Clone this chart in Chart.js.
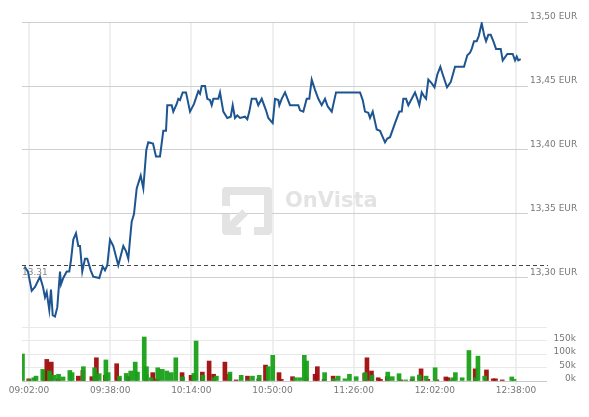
<!DOCTYPE html>
<html>
<head>
<meta charset="utf-8">
<script src="https://cdn.jsdelivr.net/npm/chart.js@4.4.1/dist/chart.umd.min.js"></script>
<style>
  html, body { margin: 0; padding: 0; background: #fff; }
  #wrap { width: 589px; height: 417px; }
</style>
</head>
<body>
<div id="wrap"><canvas id="chart" width="589" height="417"></canvas></div>
<script>
// ==================== DATA ====================

// Kurs (EUR) – Zeitpunkte und Werte
const priceTimes = [
    '09:00:00','09:01:33','09:03:12','09:04:40','09:06:53','09:08:13','09:09:06','09:09:51','09:11:00','09:11:45',
    '09:12:31','09:13:32','09:14:33','09:15:45','09:16:12','09:17:13','09:18:43','09:19:52','09:20:38','09:21:39',
    '09:22:51','09:23:52','09:24:37','09:25:38','09:26:50','09:27:51','09:29:22','09:30:31','09:33:11','09:34:41',
    '09:35:43','09:36:44','09:37:56','09:39:23','09:41:36','09:43:50','09:45:01','09:46:03','09:46:48','09:47:33',
    '09:48:34','09:49:46','09:51:33','09:52:42','09:54:02','09:54:55','09:57:00','09:58:20','10:00:06','10:01:34',
    '10:02:46','10:03:21','10:05:18','10:06:00','10:07:31','10:08:13','10:08:58','10:10:10','10:11:38','10:13:25',
    '10:15:11','10:17:05','10:17:51','10:18:36','10:20:04','10:21:05','10:22:17','10:23:02','10:23:45','10:25:58',
    '10:26:43','10:28:11','10:29:57','10:31:28','10:32:21','10:33:22','10:34:23','10:35:35','10:37:48','10:38:50',
    '10:39:43','10:40:47','10:42:41','10:43:42','10:45:13','10:47:07','10:48:08','10:50:05','10:51:07','10:52:35',
    '10:53:01','10:54:05','10:55:33','10:57:46','11:01:27','11:02:12','11:03:40','11:05:10','11:06:19','11:07:23',
    '11:08:51','11:10:19','11:11:49','11:13:17','11:14:29','11:16:16','11:18:10','11:28:49','11:30:01','11:31:02',
    '11:32:30','11:33:15','11:34:27','11:36:13','11:37:41','11:39:54','11:40:55','11:42:07','11:44:20','11:46:15',
    '11:47:18','11:48:01','11:49:13','11:50:14','11:51:45','11:53:12','11:54:14','11:55:07','11:56:11','11:57:12',
    '11:58:05','11:59:06','12:00:37','12:01:51','12:03:06','12:04:26','12:05:30','12:07:24','12:09:02','12:10:57',
    '12:14:56','12:16:24','12:17:36','12:18:21','12:19:23','12:20:34','12:21:28','12:22:47','12:23:57','12:24:42',
    '12:25:43','12:26:47','12:27:56','12:29:08','12:31:13','12:32:06','12:34:09','12:36:32','12:37:34','12:38:19',
    '12:39:01','12:40:05'
];
const prices = [
    13.309,13.305,13.290,13.293,13.301,13.293,13.285,13.289,13.275,13.291,
    13.271,13.270,13.277,13.305,13.295,13.300,13.305,13.305,13.314,13.330,
    13.335,13.325,13.325,13.305,13.315,13.315,13.306,13.301,13.300,13.309,
    13.306,13.310,13.330,13.325,13.310,13.325,13.321,13.315,13.330,13.344,
    13.350,13.370,13.380,13.370,13.400,13.406,13.405,13.395,13.395,13.415,
    13.415,13.435,13.435,13.430,13.436,13.440,13.439,13.445,13.445,13.430,
    13.436,13.446,13.444,13.450,13.450,13.440,13.439,13.435,13.440,13.440,
    13.445,13.430,13.425,13.426,13.435,13.425,13.427,13.425,13.426,13.424,
    13.430,13.440,13.440,13.435,13.440,13.431,13.425,13.421,13.440,13.439,
    13.435,13.440,13.445,13.435,13.435,13.431,13.430,13.440,13.440,13.455,
    13.447,13.440,13.435,13.440,13.434,13.430,13.445,13.445,13.439,13.430,
    13.429,13.425,13.430,13.416,13.415,13.406,13.409,13.410,13.421,13.430,
    13.430,13.440,13.440,13.435,13.440,13.445,13.440,13.435,13.445,13.442,
    13.440,13.455,13.452,13.449,13.459,13.465,13.459,13.449,13.453,13.465,
    13.465,13.474,13.476,13.479,13.485,13.485,13.489,13.499,13.489,13.485,
    13.490,13.490,13.485,13.479,13.479,13.470,13.475,13.475,13.470,13.473,
    13.470,13.471
];

// Vortag-Schlusskurs
const prevClose = 13.31;

// Umsatz (Stück) – steigende Minuten (grün)
const volUpTimes = [
    '09:00','09:03','09:05','09:06','09:09','09:12','09:14','09:16','09:18','09:21',
    '09:22','09:27','09:32','09:34','09:37','09:38','09:43','09:46','09:48','09:50',
    '09:51','09:54','09:55','09:57','10:00','10:02','10:04','10:06','10:08','10:11',
    '10:16','10:17','10:20','10:25','10:26','10:32','10:37','10:40','10:42','10:45',
    '10:49','10:51','11:01','11:03','11:05','11:06','11:14','11:18','11:20','11:23',
    '11:25','11:28','11:32','11:35','11:42','11:44','11:47','11:50','11:53','11:56',
    '11:59','12:03','12:10','12:11','12:12','12:15','12:18','12:21','12:22','12:25',
    '12:37','12:38'
];
const volUp = [
    100000,5000,12000,18000,43000,37000,21000,25000,15000,39000,
    31000,53000,49000,27000,78000,31000,18000,28000,37000,70000,
    33000,163000,53000,12000,49000,43000,37000,31000,86000,15000,
    28000,148000,21000,12000,18000,33000,21000,4000,18000,21000,
    53000,95000,12000,12000,95000,74000,31000,8000,18000,8000,
    25000,16000,31000,21000,33000,16000,27000,4000,16000,22000,
    18000,49000,4000,12000,31000,12000,113000,12000,92000,18000,
    15000,6000
];

// Umsatz (Stück) – fallende Minuten (rot)
const volDownTimes = [
    '09:01','09:08','09:09','09:11','09:14','09:23','09:25','09:29','09:31','09:35',
    '09:40','09:41','09:45','09:53','09:56','09:58','10:09','10:13','10:18','10:21',
    '10:23','10:28','10:30','10:33','10:38','10:43','10:46','10:52','10:53','10:58',
    '11:04','11:08','11:09','11:12','11:16','11:30','11:31','11:33','11:36','11:37',
    '11:40','11:46','11:51','11:55','11:58','12:02','12:06','12:07','12:19','12:24',
    '12:27','12:28','12:31'
];
const volDown = [
    8000,37000,80000,70000,8000,18000,39000,16000,86000,21000,
    64000,12000,16000,25000,31000,8000,31000,21000,33000,74000,
    25000,70000,25000,4000,18000,8000,59000,31000,6000,16000,
    12000,25000,53000,6000,18000,28000,86000,37000,12000,6000,
    16000,4000,6000,45000,6000,4000,15000,12000,45000,41000,
    8000,8000,4000
];

// Achsenbeschriftungen
const xTickLabels = ['09:02:00', '09:38:00', '10:14:00', '10:50:00', '11:26:00', '12:02:00', '12:38:00'];
const priceTicks = [13.30, 13.35, 13.40, 13.45, 13.50];
const volumeTicks = [0, 50000, 100000, 150000, 200000];
const volumeTickLabels = ['0k', '50k', '100k', '150k', ''];

// ==================== HILFSFUNKTIONEN ====================

function toSec(t) {
    const p = t.split(':').map(Number);
    return p[0] * 3600 + p[1] * 60 + (p[2] || 0);
}

const FONT = { family: '"DejaVu Sans", sans-serif', size: 9 };
const TEXT_COLOR = '#777';

// Wasserzeichen, Vortageslinie und Beschriftungen
const decorPlugin = {
    id: 'decor',
    beforeDraw(chart) {
        const c = chart.ctx;
        c.save();
        c.fillStyle = '#fff';
        c.fillRect(0, 0, chart.width, chart.height);
        c.restore();
    },
    beforeDatasetsDraw(chart) {
        const c = chart.ctx;
        const area = chart.chartArea;
        const yScale = chart.scales.y;

        // OnVista Logo
        c.save();
        c.strokeStyle = '#e3e3e3';
        c.lineWidth = 8;
        c.lineJoin = 'round';
        c.beginPath();
        c.moveTo(226, 206);
        c.lineTo(226, 191);
        c.lineTo(268, 191);
        c.lineTo(268, 231);
        c.lineTo(254, 231);
        c.stroke();
        c.beginPath();
        c.moveTo(241, 231);
        c.lineTo(226, 231);
        c.lineTo(226, 214);
        c.stroke();
        c.beginPath();
        c.moveTo(228, 229);
        c.lineTo(245, 212);
        c.stroke();
        c.fillStyle = '#e3e3e3';
        c.font = 'bold 21px "DejaVu Sans"';
        c.textBaseline = 'alphabetic';
        c.fillText('OnVista', 285, 207);
        c.restore();

        // Vortageslinie
        const y = Math.round(yScale.getPixelForValue(prevClose)) + 0.5;
        c.save();
        c.strokeStyle = '#444';
        c.lineWidth = 1;
        c.setLineDash([4, 3]);
        c.beginPath();
        c.moveTo(area.left, y);
        c.lineTo(548, y);
        c.stroke();
        c.setLineDash([]);
        c.fillStyle = '#888';
        c.font = '9px "DejaVu Sans"';
        c.textBaseline = 'middle';
        c.fillText(prevClose.toFixed(2), area.left, y + 7);
        c.restore();
    },
    afterDraw(chart) {
        // Umsatz-Beschriftung rechtsbündig
        const c = chart.ctx;
        const vScale = chart.scales.v;
        c.save();
        c.fillStyle = TEXT_COLOR;
        c.font = '9px "DejaVu Sans"';
        c.textAlign = 'right';
        c.textBaseline = 'middle';
        volumeTicks.forEach((v, i) => {
            if (volumeTickLabels[i]) {
                c.fillText(volumeTickLabels[i], 576, vScale.getPixelForValue(v) - 2);
            }
        });
        c.restore();
    }
};

// ==================== CHART ====================

const ctx = document.getElementById('chart').getContext('2d');

new Chart(ctx, {
    type: 'line',
    data: {
        datasets: [
            {
                type: 'line',
                data: priceTimes.map((t, i) => ({ x: toSec(t), y: prices[i] })),
                xAxisID: 'x',
                yAxisID: 'y',
                borderColor: '#1e5591',
                borderWidth: 2,
                pointRadius: 0,
                tension: 0,
                fill: false,
                order: 0
            },
            {
                type: 'bar',
                data: volUpTimes.map((t, i) => ({ x: toSec(t), y: volUp[i] })),
                xAxisID: 'x',
                yAxisID: 'v',
                backgroundColor: 'rgba(24, 160, 24, 0.95)',
                barThickness: 4,
                order: 1
            },
            {
                type: 'bar',
                data: volDownTimes.map((t, i) => ({ x: toSec(t), y: volDown[i] })),
                xAxisID: 'x',
                yAxisID: 'v',
                backgroundColor: 'rgba(160, 12, 12, 0.95)',
                barThickness: 4,
                order: 2
            }
        ]
    },
    options: {
        responsive: false,
        animation: false,
        devicePixelRatio: 1,
        layout: { padding: { left: 22, top: 22, right: 0, bottom: 0 } },
        plugins: {
            legend: { display: false },
            tooltip: { enabled: false }
        },
        scales: {
            x: {
                type: 'linear',
                offset: false,
                min: toSec('08:58:54'),
                max: toSec('12:42:52'),
                afterBuildTicks: s => { s.ticks = xTickLabels.map(l => ({ value: toSec(l) })); },
                afterFit: s => { s.height = 36; },
                ticks: {
                    autoSkip: false,
                    maxRotation: 0,
                    padding: 0,
                    color: TEXT_COLOR,
                    font: FONT,
                    callback: (v, i) => xTickLabels[i]
                },
                grid: { color: '#efefef', lineWidth: 2, tickLength: 4, offset: false },
                border: { display: false }
            },
            y: {
                type: 'linear',
                position: 'right',
                weight: 1,
                min: 13.50 - 359 * (0.05 / 64),
                max: 13.50,
                afterBuildTicks: s => { s.ticks = priceTicks.map(v => ({ value: v })); },
                afterFit: s => { s.width = 62; },
                ticks: {
                    crossAlign: 'near',
                    padding: 2,
                    labelOffset: -5,
                    color: TEXT_COLOR,
                    font: FONT,
                    callback: v => v.toFixed(2).replace('.', ',') + ' EUR'
                },
                grid: { color: '#cfcfcf', tickLength: 1 },
                border: { display: false }
            },
            v: {
                type: 'linear',
                position: 'right',
                weight: 0,
                min: 0,
                max: 1330000,
                afterBuildTicks: s => { s.ticks = volumeTicks.map(v => ({ value: v })); },
                afterFit: s => { s.width = 0; },
                ticks: { display: false },
                grid: {
                    color: c => (c.tick && c.tick.value === 0) ? '#c8c8c8' : '#e8e8e8',
                    tickLength: 20
                },
                border: { display: false }
            }
        }
    },
    plugins: [decorPlugin]
});
</script>
</body>
</html>
